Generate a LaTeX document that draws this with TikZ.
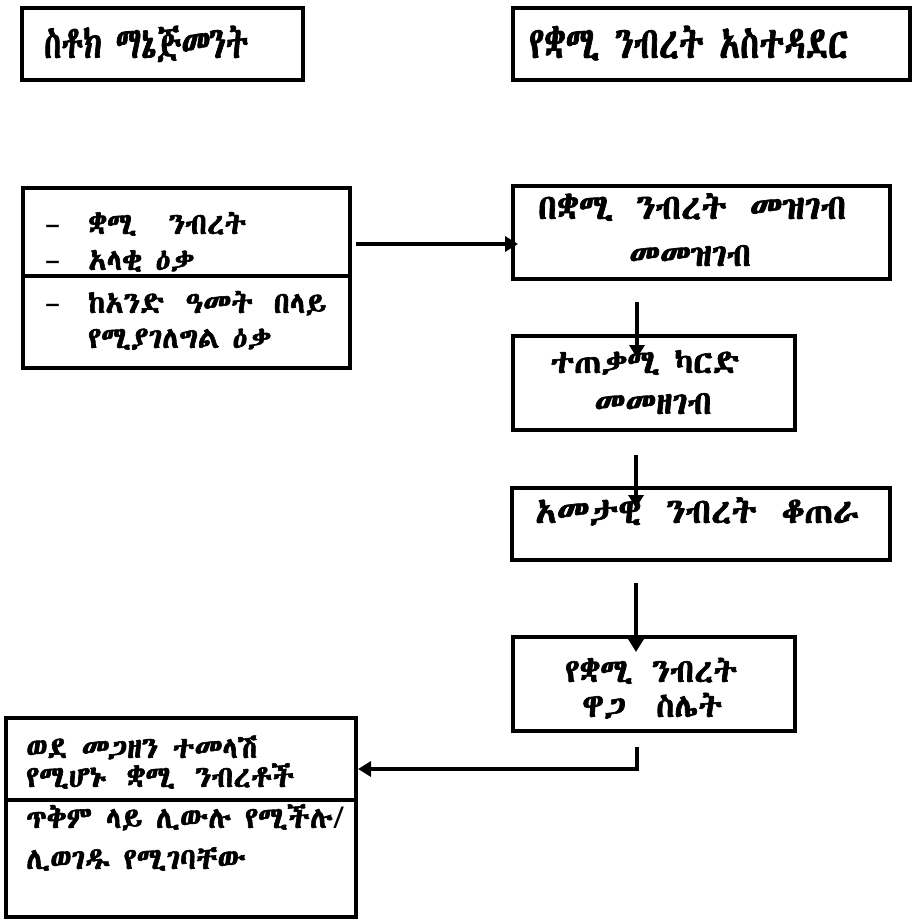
\documentclass[tikz,border=0pt]{standalone}
\usepackage{fontspec}
\usepackage{graphicx}
\IfFontExistsTF{Abyssinica SIL}{%
  \newfontfamily\eth[BoldFont={*},BoldFeatures={FakeBold=2}]{Abyssinica SIL}}{%
  \IfFontExistsTF{FreeSerif.otf}{%
    \newfontfamily\eth[BoldFont={FreeSerif.otf},BoldFeatures={FakeBold=2}]{FreeSerif.otf}}{%
    \IfFontExistsTF{FreeSerif}{%
      \newfontfamily\eth[BoldFont={*},BoldFeatures={FakeBold=2}]{FreeSerif}}{%
      \newfontfamily\eth{Noto Sans Ethiopic}}}}
\newfontfamily\lat{Noto Sans}
\newcommand{\fitw}[2]{\resizebox{#1}{\height}{#2}}
\newcommand{\spread}[2]{\makebox[#1][s]{#2}}
\usetikzlibrary{arrows.meta,calc}
\begin{document}
\begin{tikzpicture}[x=1pt,y=-1pt,
  box/.style={draw=black, line width=4.5pt, inner sep=0pt, outer sep=0pt},
  txt/.style={font=\eth\bfseries\fontsize{30}{36}\selectfont, inner sep=0pt, anchor=base west},
  rtxt/.style={font=\eth\bfseries\fontsize{33}{38}\selectfont, inner sep=0pt, anchor=base west},
  wtxt/.style={font=\eth\bfseries\fontsize{35}{40}\selectfont, inner sep=0pt, anchor=base west},
  crtxt/.style={font=\eth\bfseries\fontsize{33}{38}\selectfont, inner sep=0pt, anchor=base},
  ttxt/.style={font=\eth\bfseries\fontsize{44}{48}\selectfont, inner sep=0pt, anchor=base west},
  dsh/.style={font=\lat\fontsize{30}{36}\selectfont, inner sep=0pt, anchor=base west},
  arr/.style={line width=4pt, line join=miter, -{Triangle[length=13pt,width=15pt]}}]
\useasboundingbox (0,0) rectangle (913,923);
\fill[white] (0,0) rectangle (913,923);

% boxes
\node[box, minimum width=281pt, minimum height=72pt] (A) at (162.5,44) {};
\node[box, minimum width=397pt, minimum height=72pt] (B) at (711.5,44) {};
\node[box, minimum width=327pt, minimum height=88pt] (C1) at (186.5,232) {};
\node[box, minimum width=327pt, minimum height=92pt] (C2) at (186.5,322) {};
\node[box, minimum width=377pt, minimum height=93pt] (D) at (701.5,232.5) {};
\node[box, minimum width=282pt, minimum height=94pt] (E) at (654,383) {};
\node[box, minimum width=378pt, minimum height=72pt] (F) at (701,524) {};
\node[box, minimum width=282pt, minimum height=94pt] (G) at (654,684) {};
\node[box, minimum width=350pt, minimum height=82pt] (H1) at (181,759) {};
\node[box, minimum width=350pt, minimum height=117pt] (H2) at (181,858.5) {};

% texts
\node[ttxt] (tA) at (44,58) {\fitw{204pt}{ስቶክ ማኔጅመንት}};
\node[ttxt] (tB) at (529,58) {\fitw{319pt}{የቋሚ ንብረት አስተዳደር}};

\node[dsh] (c1d1) at (45,234) {–};
\node[txt] (c1t1) at (88,234) {\spread{158pt}{ቋሚ ንብረት}};
\node[dsh] (c1d2) at (45,270) {–};
\node[txt] (c1t2) at (88,270) {አላቂ ዕቃ};
\node[dsh] (c2d1) at (45,313) {–};
\node[txt] (c2t1) at (88,313) {\spread{238pt}{ከአንድ ዓመት በላይ}};
\node[txt] (c2t2) at (88,348) {\spread{183pt}{የሚያገለግል ዕቃ}};

\node[wtxt] (d1) at (538,219) {\spread{308pt}{በቋሚ ንብረት መዝገብ}};
\node[crtxt] (d2) at (690,266) {መመዝገብ};

\node[crtxt] (e1) at (645,373) {ተጠቃሚ ካርድ};
\node[crtxt] (e2) at (653,414) {መመዘገብ};

\node[wtxt] (f1) at (535,523) {\spread{324pt}{አመታዊ ንብረት ቆጠራ}};

\node[rtxt] (g1) at (565,682) {\spread{172pt}{የቋሚ ንብረት}};
\node[rtxt] (g2) at (582,717) {\spread{140pt}{ዋጋ ስሌት}};

\node[txt] (h1) at (26,758) {\spread{231pt}{ወደ መጋዘን ተመላሽ}};
\node[txt] (h2) at (26,787) {\spread{268pt}{የሚሆኑ ቋሚ ንብረቶች}};
\node[txt] (h3) at (26,828) {\spread{318pt}{ጥቅም ላይ ሊውሉ የሚችሉ{\lat\mdseries/}}};
\node[txt] (h4) at (26,869) {ሊወገዱ የሚገባቸው};

% connectors
\draw[arr] ($(C1.east)+(6,12)$) -- ($(D.west)+(5,11.5)$);
\draw[arr] ($(D.south west)+(124,23)$) -- ($(E.north west)+(124,22)$);
\draw[arr] ($(E.south west)+(123,25)$) -- ($(F.north west)+(124,20)$);
\draw[arr] ($(F.south west)+(124,23)$) -- ($(G.north west)+(123,15)$);
\draw[arr] ($(G.south west)+(124,16)$) |- ($(H1.east)+(2,10)$);
\end{tikzpicture}
\end{document}
